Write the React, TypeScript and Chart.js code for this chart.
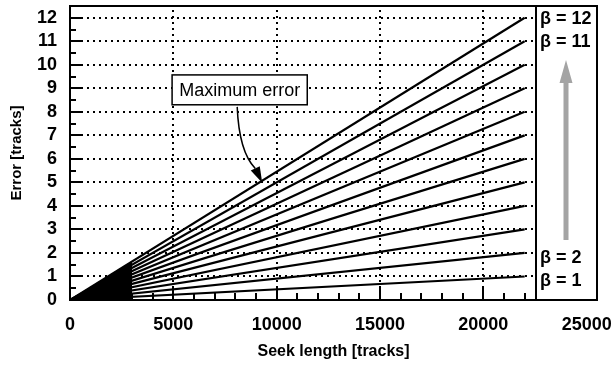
import { useEffect, useRef } from "react";
import { Chart, registerables } from "chart.js";

Chart.register(...registerables);

// ---- data ----
const betaValues = [1, 2, 3, 4, 5, 6, 7, 8, 9, 10, 11, 12];
const seekStart = 0;
const seekEnd = 22000;
const errorAtStart = 0;
const denseRegionEnd = 3000;
const xTickValues = [0, 5000, 10000, 15000, 20000, 25000];
const yTickValues = [0, 1, 2, 3, 4, 5, 6, 7, 8, 9, 10, 11, 12];
const xGridValues = [5000, 10000, 15000, 20000];
const xMinorTicks = [1000, 2000, 3000, 4000, 6000, 7000, 8000, 9000, 11000, 12000, 13000, 14000, 16000, 17000, 18000, 19000, 21000, 22000];
const yMinorTicks = [0.5, 1.5, 2.5, 3.5, 4.5, 5.5, 6.5, 7.5, 8.5, 9.5, 10.5, 11.5];
const panelBetaLabels = [12, 11, 2, 1];
const xTitle = "Seek length [tracks]";
const yTitle = "Error [tracks]";
const annotationText = "Maximum error";

const X_MIN = 0;
const X_MAX = 25500;
const Y_MIN = 0;
const Y_MAX = 12.5;
const PANEL_DIVIDER = 22550;

const FAMILY = "'Liberation Sans', Arial, Helvetica, sans-serif";

const decorPlugin = {
  id: "decor",
  beforeDatasetsDraw(chart: any) {
    const { ctx, chartArea, scales } = chart;
    const { left, top, bottom } = chartArea;
    const xs = scales.x;
    const ys = scales.y;
    const divPx = xs.getPixelForValue(PANEL_DIVIDER);
    ctx.save();
    ctx.strokeStyle = "#000";
    ctx.lineWidth = 2;
    ctx.setLineDash([2, 4]);
    for (const v of yTickValues) {
      if (v <= 0) continue;
      const py = Math.round(ys.getPixelForValue(v));
      ctx.beginPath();
      ctx.moveTo(left + 11, py);
      ctx.lineTo(divPx, py);
      ctx.stroke();
    }
    for (const v of xGridValues) {
      const px = Math.round(xs.getPixelForValue(v));
      ctx.beginPath();
      ctx.moveTo(px, bottom - 12);
      ctx.lineTo(px, top);
      ctx.stroke();
    }
    ctx.restore();
  },
  afterDatasetsDraw(chart: any) {
    const { ctx, chartArea, scales } = chart;
    const { left, right, top, bottom } = chartArea;
    const xs = scales.x;
    const ys = scales.y;
    const X = (v: number) => xs.getPixelForValue(v);
    const Y = (v: number) => ys.getPixelForValue(v);
    const divPx = Math.round(X(PANEL_DIVIDER));
    ctx.save();
    ctx.strokeStyle = "#000";
    ctx.lineWidth = 2;
    ctx.setLineDash([]);
    // ticks
    ctx.beginPath();
    for (const v of xGridValues) {
      const px = Math.round(X(v));
      ctx.moveTo(px, bottom);
      ctx.lineTo(px, bottom - 12);
    }
    for (const v of xMinorTicks) {
      const px = Math.round(X(v));
      ctx.moveTo(px, bottom);
      ctx.lineTo(px, bottom - 7);
    }
    for (const v of yTickValues) {
      const py = Math.round(Y(v));
      ctx.moveTo(left, py);
      ctx.lineTo(left + 11, py);
    }
    for (const v of yMinorTicks) {
      const py = Math.round(Y(v));
      ctx.moveTo(left, py);
      ctx.lineTo(left + 6, py);
    }
    ctx.stroke();
    // frame
    ctx.strokeRect(Math.round(left), Math.round(top), Math.round(right - left), Math.round(bottom - top));
    // divider
    ctx.beginPath();
    ctx.moveTo(divPx, top);
    ctx.lineTo(divPx, bottom);
    ctx.stroke();

    // panel labels
    ctx.fillStyle = "#000";
    ctx.font = `bold 18px ${FAMILY}`;
    ctx.textAlign = "left";
    ctx.textBaseline = "alphabetic";
    for (const b of panelBetaLabels) {
      const off = b > 5 ? 0.25 : 0.42;
      ctx.fillText(`β = ${b}`, divPx + 4, Y(b - off));
    }

    // gray arrow
    const ax = X(24000);
    const tipY = Y(10.2);
    const baseY = Y(2.55);
    ctx.fillStyle = "#a4a4a4";
    ctx.beginPath();
    ctx.moveTo(ax, tipY);
    ctx.lineTo(ax + 6.5, tipY + 23);
    ctx.lineTo(ax + 2.5, tipY + 23);
    ctx.lineTo(ax + 2.5, baseY);
    ctx.lineTo(ax - 2.5, baseY);
    ctx.lineTo(ax - 2.5, tipY + 23);
    ctx.lineTo(ax - 6.5, tipY + 23);
    ctx.closePath();
    ctx.fill();

    // annotation box
    const bx0 = X(4940);
    const bx1 = X(11480);
    const by0 = Y(9.57);
    const by1 = Y(8.3);
    ctx.fillStyle = "#fff";
    ctx.fillRect(bx0, by0, bx1 - bx0, by1 - by0);
    ctx.lineWidth = 1.5;
    ctx.strokeRect(bx0, by0, bx1 - bx0, by1 - by0);
    ctx.fillStyle = "#000";
    ctx.font = `18px ${FAMILY}`;
    ctx.textAlign = "center";
    ctx.textBaseline = "middle";
    ctx.fillText(annotationText, (bx0 + bx1) / 2, (by0 + by1) / 2 + 1);

    // curved arrow
    const sx = X(8090), sy = Y(8.21);
    const cx = X(8180), cy = Y(6.3);
    const tx = X(9300), ty = Y(4.98);
    const ex = X(8950), ey = Y(5.62);
    let dx = tx - ex, dy = ty - ey;
    const len = Math.hypot(dx, dy);
    dx /= len; dy /= len;
    const headLen = 16;
    const hbx = tx - dx * headLen, hby = ty - dy * headLen;
    ctx.beginPath();
    ctx.moveTo(sx, sy);
    ctx.quadraticCurveTo(cx, cy, hbx, hby);
    ctx.stroke();
    ctx.beginPath();
    ctx.moveTo(tx, ty);
    ctx.lineTo(hbx - dy * 5, hby + dx * 5);
    ctx.lineTo(hbx + dy * 5, hby - dx * 5);
    ctx.closePath();
    ctx.fill();
    ctx.restore();
  },
};

export default function App() {
  const ref = useRef<HTMLCanvasElement | null>(null);
  useEffect(() => {
    if (!ref.current) return;
    const lineSets = betaValues.map((b) => ({
      data: [
        { x: seekStart, y: errorAtStart },
        { x: seekEnd, y: b },
      ],
      borderColor: "#000",
      borderWidth: 2.2,
      pointRadius: 0,
      fill: false,
      tension: 0,
    }));
    const topBeta = betaValues[betaValues.length - 1];
    const denseSet = {
      data: [
        { x: seekStart, y: errorAtStart },
        { x: denseRegionEnd, y: (topBeta * denseRegionEnd) / seekEnd },
      ],
      borderColor: "#000",
      borderWidth: 1,
      backgroundColor: "#000",
      pointRadius: 0,
      fill: "origin",
      tension: 0,
    };
    const tickFont = { family: FAMILY, size: 18, weight: "bold" as const };
    const chart = new Chart(ref.current, {
      type: "line",
      data: { datasets: [denseSet, ...lineSets] as any },
      options: {
        animation: false,
        responsive: false,
        maintainAspectRatio: false,
        devicePixelRatio: 1,
        layout: { padding: { top: 6, right: 16, left: 0, bottom: 0 } },
        plugins: { legend: { display: false }, tooltip: { enabled: false } },
        scales: {
          x: {
            type: "linear",
            min: X_MIN,
            max: X_MAX,
            afterBuildTicks: (s: any) => {
              s.ticks = xTickValues.map((v) => ({ value: v }));
            },
            afterFit: (s: any) => {
              s.height = 65;
              s.paddingLeft = 0;
              s.paddingRight = 0;
            },
            grid: { display: false, drawTicks: false },
            border: { display: false },
            ticks: {
              padding: 14,
              font: tickFont,
              color: "#000",
              maxRotation: 0,
              autoSkip: false,
              callback: (v: any) => String(v),
            },
            title: {
              display: true,
              text: xTitle,
              color: "#000",
              font: { family: FAMILY, size: 16, weight: "bold" },
              padding: { top: 0, bottom: 4 },
            },
          },
          y: {
            type: "linear",
            min: Y_MIN,
            max: Y_MAX,
            afterBuildTicks: (s: any) => {
              s.ticks = yTickValues.map((v) => ({ value: v }));
            },
            afterFit: (s: any) => {
              s.width = 70;
              s.paddingTop = 0;
              s.paddingBottom = 0;
            },
            grid: { display: false, drawTicks: false },
            border: { display: false },
            ticks: {
              padding: 13,
              font: tickFont,
              color: "#000",
              autoSkip: false,
              callback: (v: any) => String(v),
            },
            title: {
              display: true,
              text: yTitle,
              color: "#000",
              font: { family: FAMILY, size: 15, weight: "bold" },
              padding: { top: 8, bottom: 0 },
            },
          },
        },
      } as any,
      plugins: [decorPlugin],
    });
    return () => chart.destroy();
  }, []);
  return (
    <div style={{ position: "absolute", left: 0, top: 0, width: 613, height: 365, background: "#fff" }}>
      <canvas ref={ref} width={613} height={365} style={{ display: "block" }} />
    </div>
  );
}
